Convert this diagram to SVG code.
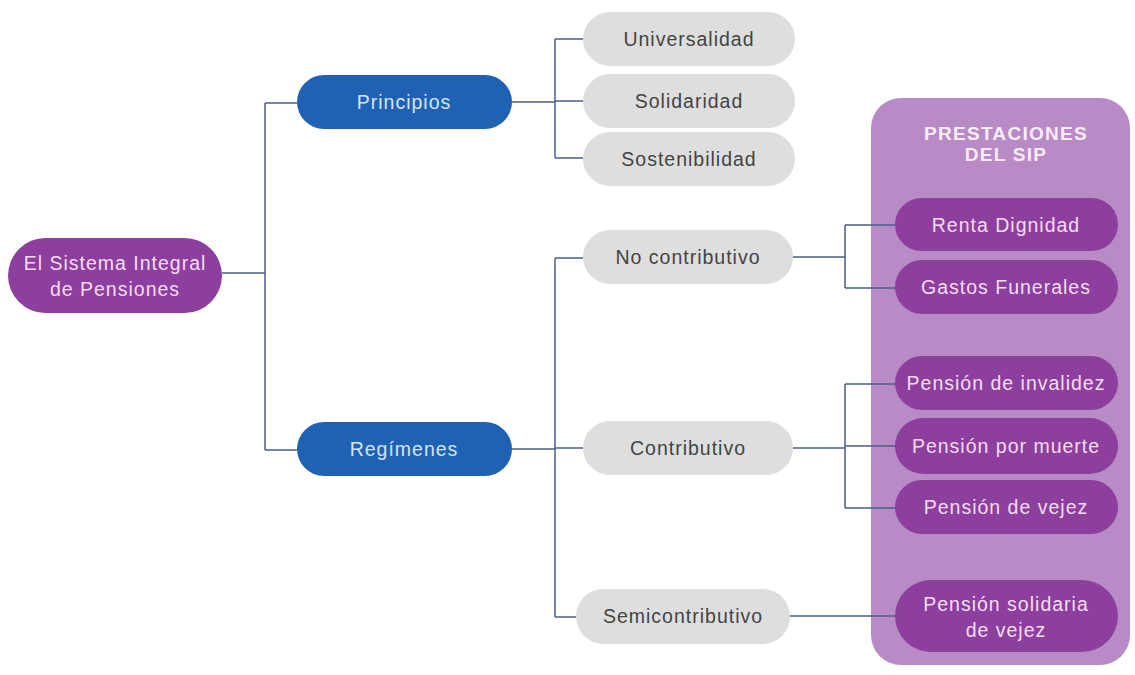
<svg xmlns="http://www.w3.org/2000/svg" width="1135" height="675" viewBox="0 0 1135 675">
<style>
.t{font-family:"Liberation Sans",Arial,sans-serif;font-size:19.5px;letter-spacing:1px;text-anchor:middle;dominant-baseline:central}
.purple rect{fill:#8c3f9c}
.purple text{fill:#f6dcf6}
.blue rect{fill:#1f62b3}
.blue text{fill:#d3e4f7}
.gray rect{fill:#dedede}
.gray text{fill:#444}
.c{fill:none;stroke:#4a5d8c;stroke-width:1.5}
</style>
<rect width="1135" height="675" fill="#fff"/>
<rect id="panel" x="871" y="98" width="259" height="567" rx="30" fill="#b98bc6"/>
<g id="panel-title"><text class="t" x="1006" y="133" fill="#f8ecf9" font-weight="bold" style="font-size:19px;letter-spacing:1.3px">PRESTACIONES</text><text class="t" x="1006" y="154" fill="#f8ecf9" font-weight="bold" style="font-size:19px;letter-spacing:1.3px">DEL SIP</text></g>
<g id="connectors" class="c">
<path d="M222 273H265M265 103V450M265 103H297M265 450H297"/>
<path d="M512 102H555M555 39V158M555 39H583M555 101H583M555 158H583"/>
<path d="M512 449H555M555 258V617M555 258H583M555 448H583M555 617H576"/>
<path d="M793 257H845M845 225V288M845 225H896M845 288H896"/>
<path d="M793 448H845M845 384V508M845 384H896M845 446H896M845 508H896"/>
<path d="M790 616H896"/>
</g>
<g id="n-sip" class="purple"><rect x="8" y="238" width="214" height="75" rx="37.5"/><text class="t" x="115" y="263">El Sistema Integral</text><text class="t" x="115" y="289">de Pensiones</text></g>
<g id="n-principios" class="blue"><rect x="297" y="75" width="215" height="54" rx="27"/><text class="t" x="404" y="102">Principios</text></g>
<g id="n-regimenes" class="blue"><rect x="297" y="422" width="215" height="54" rx="27"/><text class="t" x="404" y="449">Regímenes</text></g>
<g id="n-universalidad" class="gray"><rect x="583" y="12" width="212" height="54" rx="27"/><text class="t" x="689" y="39">Universalidad</text></g>
<g id="n-solidaridad" class="gray"><rect x="583" y="74" width="212" height="54" rx="27"/><text class="t" x="689" y="101">Solidaridad</text></g>
<g id="n-sostenibilidad" class="gray"><rect x="583" y="132" width="212" height="54" rx="27"/><text class="t" x="689" y="159">Sostenibilidad</text></g>
<g id="n-nocontrib" class="gray"><rect x="583" y="230" width="210" height="54" rx="27"/><text class="t" x="688" y="257">No contributivo</text></g>
<g id="n-contrib" class="gray"><rect x="583" y="421" width="210" height="54" rx="27"/><text class="t" x="688" y="448">Contributivo</text></g>
<g id="n-semicontrib" class="gray"><rect x="576" y="589" width="214" height="55" rx="27.5"/><text class="t" x="683" y="616">Semicontributivo</text></g>
<g id="n-renta" class="purple"><rect x="895" y="198" width="223" height="53" rx="26.5"/><text class="t" x="1006" y="225">Renta Dignidad</text></g>
<g id="n-gastos" class="purple"><rect x="895" y="260" width="223" height="54" rx="27"/><text class="t" x="1006" y="287">Gastos Funerales</text></g>
<g id="n-invalidez" class="purple"><rect x="895" y="356" width="223" height="54" rx="27"/><text class="t" x="1006" y="383">Pensión de invalidez</text></g>
<g id="n-muerte" class="purple"><rect x="895" y="418" width="223" height="56" rx="28"/><text class="t" x="1006" y="446">Pensión por muerte</text></g>
<g id="n-vejez" class="purple"><rect x="895" y="480" width="223" height="54" rx="27"/><text class="t" x="1006" y="507">Pensión de vejez</text></g>
<g id="n-solidaria" class="purple"><rect x="895" y="580" width="223" height="72" rx="36"/><text class="t" x="1006" y="604">Pensión solidaria</text><text class="t" x="1006" y="630">de vejez</text></g>
</svg>
